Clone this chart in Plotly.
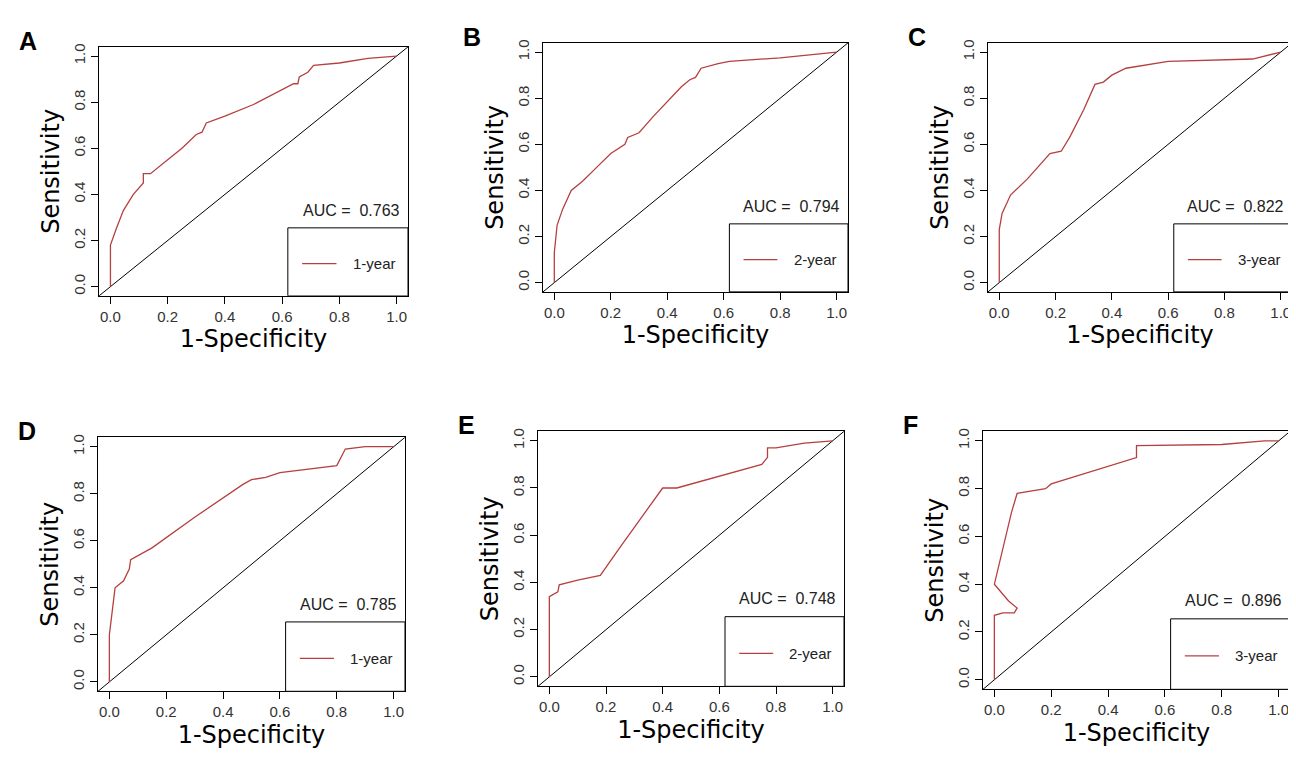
import plotly.graph_objects as go

labels = ["A", "B", "C", "D", "E", "F"]
years = ["1-year", "2-year", "3-year", "1-year", "2-year", "3-year"]
aucs = ["0.763", "0.794", "0.822", "0.785", "0.748", "0.896"]

fpr_A = [0,0,0.02,0.045,0.08,0.1,0.115,0.115,0.14,0.2,0.25,0.3,0.32,0.335,0.4,0.5,0.64,0.655,0.66,0.69,0.71,0.8,0.9,1]
tpr_A = [0,0.18,0.25,0.33,0.4,0.43,0.45,0.49,0.49,0.55,0.6,0.66,0.67,0.71,0.74,0.79,0.88,0.88,0.91,0.93,0.96,0.97,0.99,1]
fpr_B = [0,0,0.01,0.03,0.06,0.1,0.15,0.2,0.25,0.26,0.3,0.35,0.45,0.48,0.5,0.52,0.58,0.62,0.8,1]
tpr_B = [0,0.13,0.25,0.32,0.4,0.44,0.5,0.56,0.6,0.63,0.65,0.72,0.85,0.88,0.89,0.93,0.95,0.96,0.975,1]
fpr_C = [0,0,0.01,0.03,0.04,0.1,0.15,0.18,0.22,0.25,0.3,0.34,0.37,0.4,0.45,0.55,0.6,0.9,1]
tpr_C = [0,0.23,0.3,0.35,0.38,0.45,0.52,0.56,0.57,0.63,0.75,0.86,0.87,0.9,0.93,0.95,0.96,0.97,1]
fpr_D = [0,0,0.02,0.05,0.07,0.075,0.15,0.3,0.47,0.5,0.55,0.6,0.8,0.83,0.9,1]
tpr_D = [0,0.2,0.4,0.43,0.48,0.52,0.57,0.7,0.84,0.86,0.87,0.89,0.92,0.99,1,1]
fpr_E = [0,0,0.03,0.035,0.1,0.18,0.25,0.4,0.45,0.75,0.77,0.77,0.8,0.9,1]
tpr_E = [0,0.34,0.36,0.39,0.41,0.43,0.55,0.8,0.8,0.9,0.93,0.97,0.97,0.99,1]
fpr_F = [0,0,0.03,0.07,0.08,0.05,0.0,0.03,0.06,0.08,0.18,0.2,0.5,0.5,0.8,0.95,1]
tpr_F = [0,0.27,0.28,0.28,0.3,0.33,0.4,0.55,0.7,0.78,0.8,0.82,0.93,0.98,0.985,1,1]

fprs = [fpr_A, fpr_B, fpr_C, fpr_D, fpr_E, fpr_F]
tprs = [tpr_A, tpr_B, tpr_C, tpr_D, tpr_E, tpr_F]
ticks = [0, 0.2, 0.4, 0.6, 0.8, 1.0]
ticktext = ["0.0", "0.2", "0.4", "0.6", "0.8", "1.0"]

W, H = 1296, 761
boxes = [(91, 400, 36, 286), (535, 840, 32, 282), (980, 1284, 32, 282),
         (90, 397, 428, 683), (530, 836, 422, 678), (975, 1282, 422, 681)]

fig = go.Figure()
FONT = "Liberation Sans, Arial, sans-serif"
lo, hi = -0.04, 1.04
for i in range(6):
    n = i + 1
    xa = "x" if n == 1 else f"x{n}"
    ya = "y" if n == 1 else f"y{n}"
    x0, x1, y0, y1 = boxes[i]
    fig.add_trace(go.Scatter(x=[lo, hi], y=[lo, hi], mode="lines",
                             line=dict(color="black", width=1), xaxis=xa, yaxis=ya, showlegend=False))
    fig.add_trace(go.Scatter(x=fprs[i], y=tprs[i], mode="lines",
                             line=dict(color="#b5403f", width=1.3), xaxis=xa, yaxis=ya, showlegend=False))
    axcommon = dict(range=[lo, hi], tickvals=ticks, ticktext=ticktext, showline=True, mirror=True,
                    linecolor="black", linewidth=1, ticks="outside", ticklen=7, tickcolor="black",
                    showgrid=False, zeroline=False, tickfont=dict(family=FONT, size=15, color="#333"))
    fig.layout[("xaxis" if n == 1 else f"xaxis{n}")] = dict(
        axcommon, domain=[x0 / W, x1 / W], anchor=ya,
        title=dict(text="1-Specificity", font=dict(family="DejaVu Sans, sans-serif", size=24, color="black"), standoff=6))
    fig.layout[("yaxis" if n == 1 else f"yaxis{n}")] = dict(
        axcommon, domain=[1 - y1 / H, 1 - y0 / H], anchor=xa, tickangle=-90,
        title=dict(text="Sensitivity", font=dict(family="DejaVu Sans, sans-serif", size=24, color="black"), standoff=4))
    fig.add_shape(type="rect", xref=xa, yref=ya, x0=0.62, x1=hi, y0=lo, y1=0.255,
                  line=dict(color="black", width=1), fillcolor="white", layer="above")
    fig.add_shape(type="line", xref=xa, yref=ya, x0=0.67, x1=0.79, y0=0.1, y1=0.1,
                  line=dict(color="#b5403f", width=1.3))
    fig.add_annotation(xref=xa, yref=ya, x=0.84, y=0.1, text=years[i], showarrow=False, xanchor="left",
                       font=dict(family=FONT, size=15, color="#222"))
    fig.add_annotation(xref=xa, yref=ya, x=1.02, y=0.33, text="AUC =  " + aucs[i], showarrow=False,
                       xanchor="right", font=dict(family=FONT, size=16, color="#222"))
    fig.add_annotation(xref="paper", yref="paper", x=(x0 - 82) / W, y=1 - (y0 - 22) / H, text="<b>" + labels[i] + "</b>",
                       showarrow=False, xanchor="left", yanchor="top", font=dict(family=FONT, size=25, color="black"))

fig.update_layout(width=W, height=H, margin=dict(l=0, r=0, t=0, b=0),
                  plot_bgcolor="white", paper_bgcolor="white")
fig.write_html("out.html")
